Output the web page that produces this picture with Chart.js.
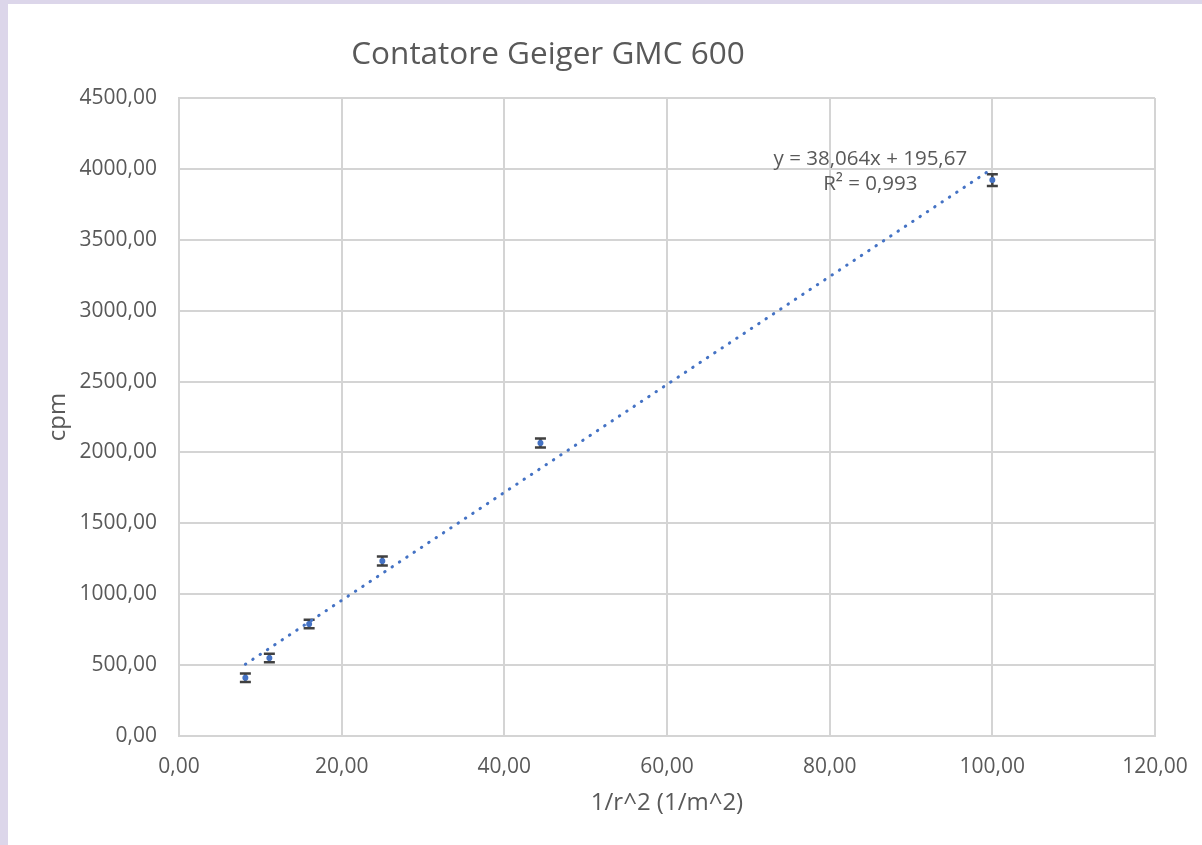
<!DOCTYPE html>
<html>
<head>
<meta charset="utf-8">
<script src="https://cdn.jsdelivr.net/npm/chart.js@4/dist/chart.umd.min.js"></script>
<style>
  html, body { margin: 0; padding: 0; background: #dcd6ea; width: 1202px; height: 845px; overflow: hidden; }
  #wrap { position: absolute; left: 8px; top: 4px; width: 1194px; height: 841px; background: #ffffff; }
  canvas { display: block; }
</style>
</head>
<body>
<div id="wrap"><canvas id="c" width="1194" height="841"></canvas></div>
<script>
// ---- data ----
const xValues = [8.16, 11.11, 16.00, 25.00, 44.44, 100.00];   // 1/r^2 (1/m^2)
const yValues = [410, 550, 790, 1234, 2067, 3921];            // cpm
const yErrors = [30, 30, 30, 32, 32, 42];                      // cpm error bars
const trendX = [8.16, 100.00];                                  // trendline end points
const trendY = [506, 4002];
const xTickValues = [0, 20, 40, 60, 80, 100, 120];
const xTickLabels = ['0,00', '20,00', '40,00', '60,00', '80,00', '100,00', '120,00'];
const yTickValues = [0, 500, 1000, 1500, 2000, 2500, 3000, 3500, 4000, 4500];
const yTickLabels = ['0,00', '500,00', '1000,00', '1500,00', '2000,00', '2500,00', '3000,00', '3500,00', '4000,00', '4500,00'];
const titleText = 'Contatore Geiger GMC 600';
const xTitle = '1/r^2 (1/m^2)';
const yTitle = 'cpm';
const equationLines = ['y = 38,064x + 195,67', 'R² = 0,993'];

const FONT = '"Open Sans", "Noto Sans", sans-serif';
const TXT = '#595959';
const GRID = '#d4d4d4';
const BLUE = '#4472c4';

const pointsData = xValues.map((x, i) => ({ x: x, y: yValues[i] }));
const trendData = trendX.map((x, i) => ({ x: x, y: trendY[i] }));

const errorBarPlugin = {
  id: 'errorBars',
  beforeDatasetsDraw(chart) {
    const { ctx, scales: { x, y } } = chart;
    ctx.save();
    ctx.strokeStyle = '#404040';
    ctx.lineWidth = 2.5;
    const cap = 5.5;
    xValues.forEach((xv, i) => {
      const px = x.getPixelForValue(xv);
      const top = y.getPixelForValue(yValues[i] + yErrors[i]);
      const bot = y.getPixelForValue(yValues[i] - yErrors[i]);
      ctx.beginPath();
      ctx.moveTo(px, top); ctx.lineTo(px, bot);
      ctx.moveTo(px - cap, top); ctx.lineTo(px + cap, top);
      ctx.moveTo(px - cap, bot); ctx.lineTo(px + cap, bot);
      ctx.stroke();
    });
    ctx.restore();
  }
};

const textPlugin = {
  id: 'texts',
  afterDraw(chart) {
    const { ctx, scales: { x, y } } = chart;
    ctx.save();
    ctx.fillStyle = TXT;
    ctx.textAlign = 'center';
    ctx.textBaseline = 'middle';
    ctx.font = '31.5px ' + FONT;
    ctx.fillText(titleText, 540, 51);
    ctx.font = '20.5px ' + FONT;
    const cx = x.getPixelForValue(85.0);
    ctx.fillText(equationLines[0], cx, y.getPixelForValue(4070));
    ctx.fillText(equationLines[1], cx, y.getPixelForValue(3890));
    ctx.restore();
  }
};

new Chart(document.getElementById('c'), {
  type: 'scatter',
  data: {
    datasets: [
      {
        label: 'Lineare',
        data: trendData,
        showLine: true,
        borderColor: BLUE,
        borderWidth: 3,
        borderDash: [0.5, 8.3],
        borderCapStyle: 'round',
        pointRadius: 0,
        fill: false
      },
      {
        label: 'cpm',
        data: pointsData,
        showLine: false,
        pointRadius: 3,
        pointBackgroundColor: BLUE,
        pointBorderWidth: 0
      }
    ]
  },
  options: {
    responsive: false,
    animation: false,
    devicePixelRatio: 1,
    layout: { padding: { top: 94, right: 47, bottom: 27, left: 0 } },
    plugins: {
      legend: { display: false },
      tooltip: { enabled: false },
      title: { display: false }
    },
    scales: {
      x: {
        type: 'linear',
        min: 0, max: 120,
        afterBuildTicks(scale) { scale.ticks = xTickValues.map(v => ({ value: v })); },
        afterFit(scale) { scale.paddingRight = 0; scale.paddingLeft = 0; },
        ticks: {
          padding: 18,
          color: TXT,
          font: { family: FONT, size: 21 },
          maxRotation: 0,
          callback: (v) => xTickLabels[xTickValues.indexOf(v)]
        },
        grid: { color: GRID, lineWidth: 2, drawTicks: false },
        border: { color: GRID, width: 2 },
        title: { display: true, text: xTitle, color: TXT, font: { family: FONT, size: 24 }, padding: { top: -8, bottom: 0 } }
      },
      y: {
        type: 'linear',
        min: 0, max: 4500,
        afterBuildTicks(scale) { scale.ticks = yTickValues.map(v => ({ value: v })); },
        afterFit(scale) { scale.width = 171; },
        ticks: {
          padding: 22,
          color: TXT,
          font: { family: FONT, size: 21 },
          callback: (v) => yTickLabels[yTickValues.indexOf(v)]
        },
        grid: { color: GRID, lineWidth: 2, drawTicks: false },
        border: { color: GRID, width: 2 },
        title: { display: true, text: yTitle, color: TXT, font: { family: FONT, size: 24 }, padding: { top: 36, bottom: 0 } }
      }
    }
  },
  plugins: [errorBarPlugin, textPlugin]
});
</script>
</body>
</html>
